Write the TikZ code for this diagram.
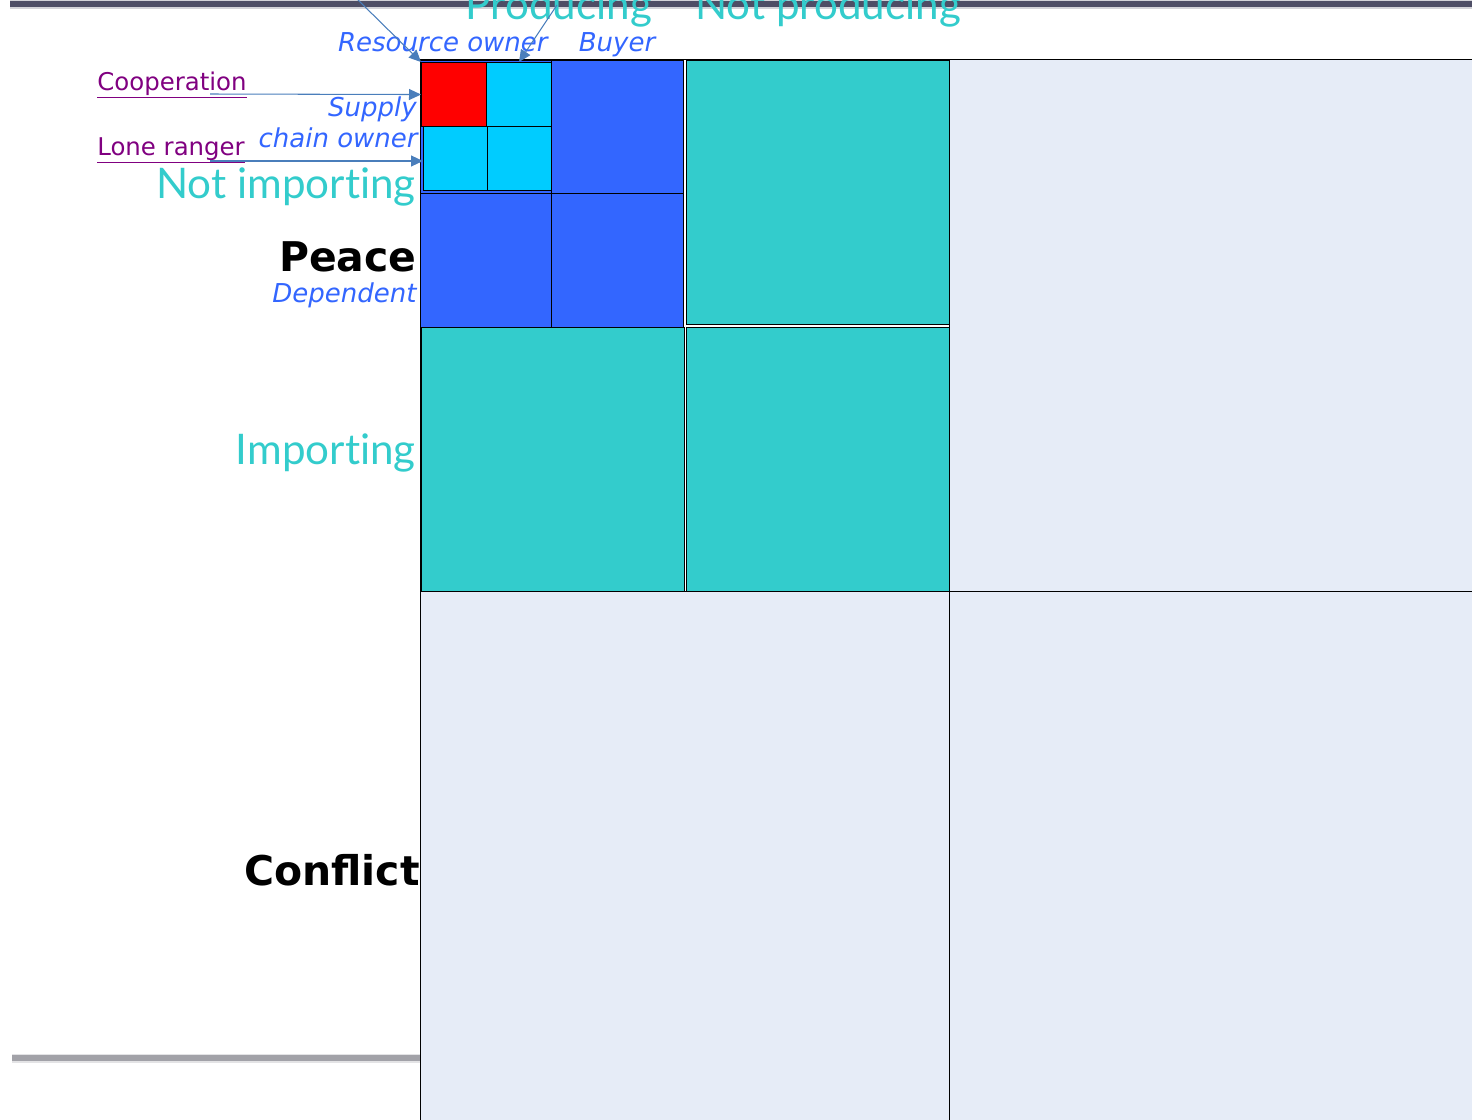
\documentclass[tikz,border=0pt]{standalone}
\usepackage{fontspec}
\setsansfont{DejaVu Sans}
\newfontfamily\tealfont[Ligatures={NoCommon,NoRequired,NoContextual}]{Lato}
\usetikzlibrary{arrows.meta,calc,positioning}
\definecolor{mxBlue}{HTML}{3366FF}
\definecolor{mxCyan}{HTML}{00CCFF}
\definecolor{mxRed}{HTML}{FF0000}
\definecolor{mxTeal}{HTML}{33CCCC}
\definecolor{mxPale}{HTML}{E6ECF7}
\definecolor{mxPurple}{HTML}{800080}
\definecolor{mxArrow}{HTML}{4A7EBB}
\definecolor{mxRule}{HTML}{4E4E66}
\definecolor{mxRuleLight}{HTML}{A2A2A8}
\tikzset{
  mxcell/.style={
    draw=black,
    fill=#1,
    line width=0.6pt,
    inner sep=0pt,
    anchor=north west
  },
  mxaxis/.style={text=mxTeal, inner sep=0pt, font=\tealfont\fontsize{24}{28}\selectfont},
  mxrole/.style={text=mxBlue, inner sep=0pt, font=\sffamily\itshape\fontsize{14.8}{17}\selectfont},
  mxstate/.style={inner sep=0pt, font=\sffamily\bfseries\fontsize{23.3}{27}\selectfont},
  mxmode/.style={text=mxPurple, inner sep=0pt, font=\sffamily\fontsize{13.9}{16}\selectfont},
  mxarrow/.style={-{Triangle[length=2.4mm,width=2.2mm]}, line width=0.6pt, draw=mxArrow}
}

\begin{document}
\begin{tikzpicture}[x=0.02cm, y=-0.02cm]
  \useasboundingbox (0,0) rectangle (1472,1120);
  \clip (0,0) rectangle (1472,1120);

  % slide rules
  \draw[mxRule, line width=0.2cm, opacity=0.25] (10,4) -- (1480,4);
  \draw[mxRule, line width=0.11cm] (10,4) -- (1480,4);
  \draw[mxRuleLight, line width=0.18cm, opacity=0.3] (12,1058) -- (420,1058);
  \draw[mxRuleLight, line width=0.11cm] (12,1058) -- (420,1058);

  % quadrants
  \node[mxcell=white, minimum width=10.58cm, minimum height=10.64cm] (peaceIn) at (420,59) {};
  \node[mxcell=mxPale, minimum width=10.58cm, minimum height=10.64cm] (peaceOut) at (949,59) {};
  \node[mxcell=mxPale, minimum width=10.58cm, minimum height=10.58cm] (conflictIn) at (420,591) {};
  \node[mxcell=mxPale, minimum width=10.58cm, minimum height=10.58cm] (conflictOut) at (949,591) {};

  \node[mxcell=mxTeal, minimum width=5.26cm, minimum height=5.28cm] (tealNotProd) at (686,60) {};
  \node[mxcell=mxTeal, minimum width=5.26cm, minimum height=5.28cm] (tealImpProd) at (421,327) {};
  \node[mxcell=mxTeal, minimum width=5.26cm, minimum height=5.28cm] (tealImpNotProd) at (686,327) {};

  \node[mxcell=mxBlue, minimum width=2.62cm, minimum height=2.66cm] (blueOwner) at (420,60) {};
  \node[mxcell=mxBlue, minimum width=2.64cm, minimum height=2.66cm] (blueBuyer) at (551,60) {};
  \node[mxcell=mxBlue, minimum width=2.62cm, minimum height=2.68cm] (blueDep) at (420,193) {};
  \node[mxcell=mxBlue, minimum width=2.64cm, minimum height=2.68cm] (blueDepBuyer) at (551,193) {};

  \node[mxcell=mxRed, minimum width=1.3cm, minimum height=1.28cm] (coopCell) at (421,62) {};
  \node[mxcell=mxCyan, minimum width=1.3cm, minimum height=1.28cm] (ownerCell) at (486,62) {};
  \node[mxcell=mxCyan, minimum width=1.28cm, minimum height=1.28cm] (loneCell) at (423,126) {};
  \node[mxcell=mxCyan, minimum width=1.28cm, minimum height=1.28cm] (chainCell) at (487,126) {};

  % labels
  \node[mxaxis, anchor=base] (producing) at (559,19) {Producing};
  \node[mxaxis, anchor=base] (notProducing) at (828,19) {Not producing};
  \node[mxrole, anchor=base east] (resource) at (548,51) {Resource owner};
  \node[mxrole, anchor=base] (buyer) at (617,51) {Buyer};
  \node[mxrole, anchor=base east] (supply) at (417,116) {Supply};
  \node[mxrole, anchor=base east] (chain) at (418,147) {chain owner};
  \node[mxaxis, anchor=base east] (notImporting) at (416,198) {Not importing};
  \node[mxstate, anchor=base east] (peace) at (417,271) {Peace};
  \node[mxrole, anchor=base east] (dependent) at (417,302) {Dependent};
  \node[mxaxis, anchor=base east] (importing) at (416,464) {Importing};
  \node[mxstate, anchor=base east] (conflict) at (420,885) {Conflict};
  \node[mxmode, anchor=base west] (coop) at (97,90) {\underline{Cooperation}};
  \node[mxmode, anchor=base west] (lone) at (97,155) {\underline{Lone ranger}};

  % pointers
  \coordinate (coopTail) at (210,94);
  \coordinate (loneTail) at (210,161);
  \coordinate (ownerTailA) at (356,-2);
  \coordinate (ownerTailB) at (557,5);
  \draw[mxarrow] (coopTail) -- (coopCell.west);
  \draw[mxarrow] (loneTail) -- (loneTail -| loneCell.west);
  \draw[mxarrow] (ownerTailA) -- (coopCell.north west);
  \draw[mxarrow] (ownerTailB) -- (ownerCell.north);
\end{tikzpicture}
\end{document}
